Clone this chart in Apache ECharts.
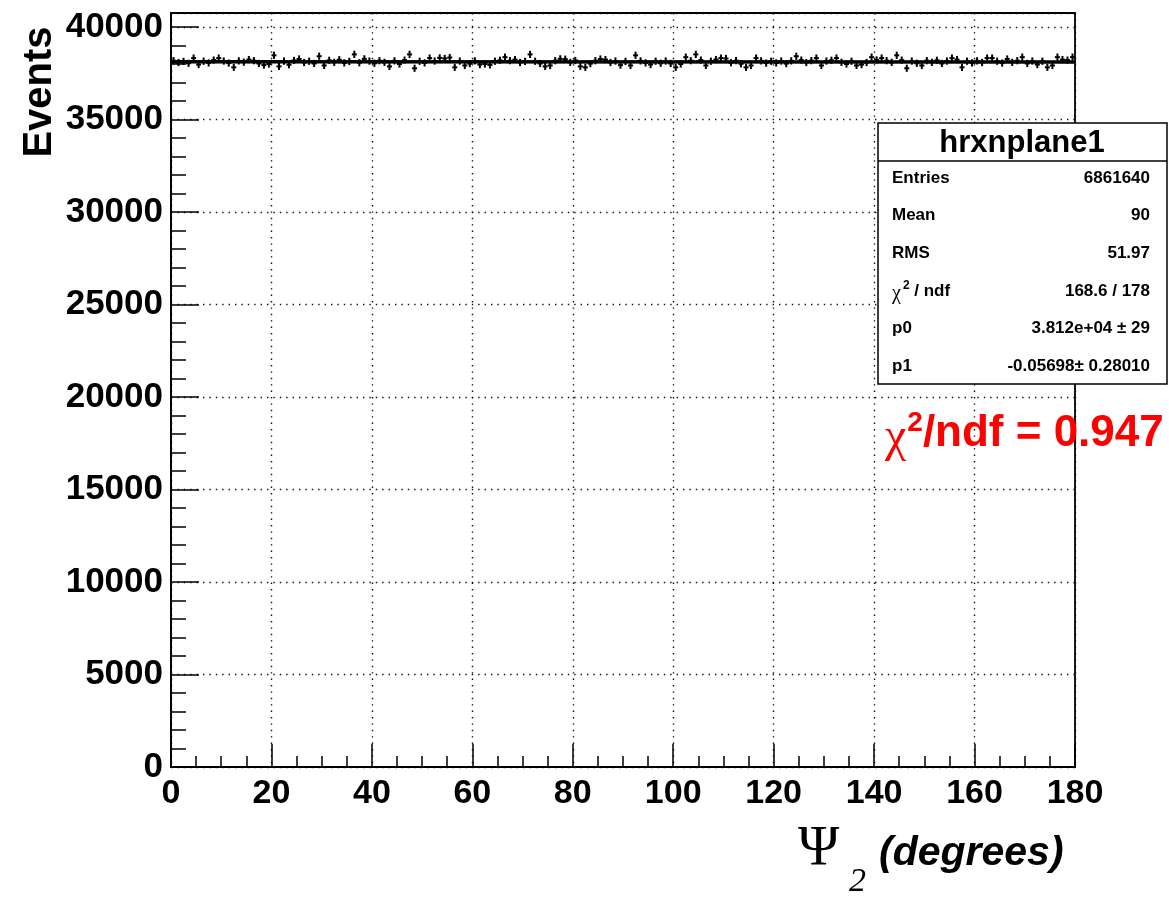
<!DOCTYPE html>
<html>
<head>
<meta charset="utf-8">
<script src="https://cdn.jsdelivr.net/npm/echarts@6/dist/echarts.min.js"></script>
<style>
html,body{margin:0;padding:0;background:#fff;}
#chart{width:1169px;height:898px;}
</style>
</head>
<body>
<div id="chart"></div>
<script>
// ---- data ----
const binWidth = 1; // degrees per bin, 0..180
const binValues = [
38180,38080,38140,38040,38320,37970,38150,38060,38210,38320,
38160,38050,37820,38170,38100,38240,38180,38030,37940,38000,
38470,37870,38160,37960,38190,38270,38080,38150,38030,38420,
37920,38200,38090,38230,38060,38140,38520,38070,38280,38160,
38040,38180,38090,37870,38170,38000,38210,38520,37770,38150,
38060,38320,38160,38330,38300,38350,37820,38160,37920,38020,
38170,37970,38000,37950,38150,38200,38370,38180,38240,38080,
38140,38520,38150,38030,37870,37920,38180,38280,38260,38090,
38190,37870,37820,38020,38180,38270,38240,38080,38160,37940,
38140,37920,38470,38170,38060,37970,38150,38040,38160,38030,
37820,38000,38370,38180,38520,38210,37920,38150,38240,38320,
38300,38070,38180,38010,37820,37920,38320,38170,38050,38150,
38060,38160,38020,38170,38420,38210,38080,38180,38320,37920,
38160,38200,38320,38090,38000,38150,37920,37970,38080,38370,
38220,38320,38180,38090,38470,38210,37770,38160,38040,37920,
38180,38090,38200,38030,38160,38320,38240,37820,38150,38060,
38170,38080,38320,38320,38150,38050,38270,38090,38180,38370,
38030,38160,37970,38150,37820,37920,38370,38240,38210,38370
];
const fitP0 = 38120;
const fitP1 = -0.05698;
const xTicks = [0,20,40,60,80,100,120,140,160,180];
const yTicks = [0,5000,10000,15000,20000,25000,30000,35000,40000];
const statsLabels = ['Entries','Mean','RMS','CHI','p0','p1'];
const statsValues = ['6861640','90','51.97','168.6 / 178','3.812e+04 \u00b1 29','-0.05698\u00b1 0.28010'];
const histName = 'hrxnplane1';
const chiText = '0.947';

// ---- chart ----
const SANS = '"Liberation Sans", Arial, sans-serif';
const SERIF = '"Liberation Serif", "Times New Roman", serif';
const chart = echarts.init(document.getElementById('chart'), null, {renderer:'canvas'});
const yMax = 40757;

const histData = binValues.map((v,i)=>[i*binWidth, v]);
const xEnd = binValues.length*binWidth;

const statRowY = [178,215,253,291,328,366];
const graphics = [];
graphics.push({type:'rect', shape:{x:878,y:123,width:289,height:261}, style:{fill:'#fff',stroke:'#000',lineWidth:1.5}, z:100});
graphics.push({type:'line', shape:{x1:878,y1:161,x2:1167,y2:161}, style:{stroke:'#000',lineWidth:1.5}, z:101});
graphics.push({type:'text', x:1022, y:143, style:{text:histName, font:'bold 31px '+SANS, fill:'#000', align:'center', verticalAlign:'middle'}, z:101});
statsLabels.forEach((lab,i)=>{
  if(lab==='CHI'){
    graphics.push({type:'text', x:892, y:statRowY[i], style:{text:'{c|\u03c7}{s|2}{n| / ndf}', align:'left', verticalAlign:'middle',
      rich:{c:{font:'20px '+SERIF, fill:'#000', padding:[6,0,0,0]}, s:{font:'bold 12px '+SANS, fill:'#000', padding:[0,0,10,2]}, n:{font:'bold 17px '+SANS, fill:'#000'}}}, z:101});
  } else {
    graphics.push({type:'text', x:892, y:statRowY[i], style:{text:lab, font:'bold 17px '+SANS, fill:'#000', align:'left', verticalAlign:'middle'}, z:101});
  }
  graphics.push({type:'text', x:1150, y:statRowY[i], style:{text:statsValues[i], font:'bold 17px '+SANS, fill:'#000', align:'right', verticalAlign:'middle'}, z:101});
});
// red chi2 text
graphics.push({type:'text', x:885, y:434, style:{text:'{c|\u03c7}{s|2}{t|/ndf = '+chiText+'}', align:'left', verticalAlign:'middle',
  rich:{c:{font:'48px '+SERIF, fill:'#ff0000', padding:[8,0,0,0]}, s:{font:'bold 28px '+SANS, fill:'#ff0000', padding:[0,0,22,1]}, t:{font:'bold 44px '+SANS, fill:'#ff0000'}}}, z:101});
// axis titles
graphics.push({type:'text', x:40, y:92, rotation:Math.PI/2, style:{text:'Events', font:'bold 40px '+SANS, fill:'#000', align:'center', verticalAlign:'middle'}});
graphics.push({type:'text', x:798, y:850, style:{text:'\u03a8', font:'56px '+SERIF, fill:'#000', align:'left', verticalAlign:'middle'}});
graphics.push({type:'text', x:849, y:882, style:{text:'2', font:'italic 34px '+SERIF, fill:'#000', align:'left', verticalAlign:'middle'}});
graphics.push({type:'text', x:879, y:854, style:{text:'(degrees)', font:'italic bold 41px '+SANS, fill:'#000', align:'left', verticalAlign:'middle'}});

const option = {
  animation:false,
  backgroundColor:'#fff',
  grid:{left:171, right:94, top:13, bottom:131, show:true, borderColor:'#000', borderWidth:1.8, backgroundColor:'transparent'},
  xAxis:{
    type:'value', min:xTicks[0], max:xTicks[xTicks.length-1], interval:xTicks[1]-xTicks[0],
    axisLine:{show:true, lineStyle:{color:'#000', width:1.8}},
    axisTick:{show:true, inside:true, length:23, lineStyle:{color:'#000', width:1.5}},
    minorTick:{show:true, splitNumber:4, length:11, lineStyle:{color:'#000', width:1.5}},
    axisLabel:{color:'#000', fontFamily:SANS, fontWeight:'bold', fontSize:34, margin:10,
      formatter:(v)=> xTicks.includes(v) ? String(v) : ''},
    splitLine:{show:true, lineStyle:{color:'#111', width:1.4, type:[1.4,5]}}
  },
  yAxis:[{
    type:'value', min:0, max:yMax, interval:yTicks[1]-yTicks[0],
    axisLine:{show:true, lineStyle:{color:'#000', width:1.8}},
    axisTick:{show:true, inside:true, length:28, lineStyle:{color:'#000', width:1.5}},
    axisLabel:{color:'#000', fontFamily:SANS, fontWeight:'bold', fontSize:35, margin:8,
      formatter:(v)=> yTicks.includes(v) ? String(v) : ''},
    splitLine:{show:true, lineStyle:{color:'#111', width:1.4, type:[1.4,5]}}
  },{
    type:'value', min:0, max:yMax, interval:1000, position:'left',
    axisLine:{show:false}, axisLabel:{show:false}, splitLine:{show:false},
    axisTick:{show:true, inside:true, length:15, lineStyle:{color:'#000', width:1.5}}
  }],
  graphic:graphics,
  series:[{
    type:'custom', xAxisIndex:0, yAxisIndex:0, data:histData, clip:true,
    renderItem:(params, api)=>{
      const x0 = api.value(0), v = api.value(1), e = Math.sqrt(v);
      const l = api.coord([x0, v]), r = api.coord([x0+binWidth, v]);
      const t = api.coord([x0+binWidth/2, v+e]), b = api.coord([x0+binWidth/2, v-e]);
      return {type:'group', children:[
        {type:'line', shape:{x1:l[0],y1:l[1],x2:r[0],y2:r[1]}, style:{stroke:'#000', lineWidth:2}},
        {type:'line', shape:{x1:t[0],y1:t[1],x2:b[0],y2:b[1]}, style:{stroke:'#000', lineWidth:2}}
      ]};
    }
  },{
    type:'line', xAxisIndex:0, yAxisIndex:0, showSymbol:false, symbol:'none',
    data:[[0, fitP0], [xEnd, fitP0 + fitP1*xEnd]],
    lineStyle:{color:'#000', width:3.5}, z:5
  }]
};
chart.setOption(option);
</script>
</body>
</html>
